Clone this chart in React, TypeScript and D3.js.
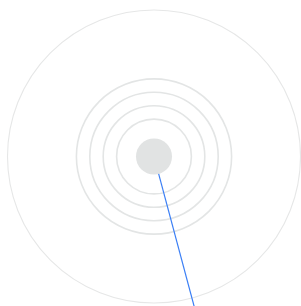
import React, { useEffect, useRef } from "react";
import * as d3 from "d3";

// ring levels drawn as concentric circles
const ringLevels = [1, 2, 3, 4];
// outer boundary level
const outerLevel = [10];
// needle heading in degrees (clockwise from north)
const needleHeading = [165];

const App: React.FC = () => {
  const ref = useRef<SVGSVGElement>(null);

  useEffect(() => {
    const width = 301,
      height = 306;
    const cx = 154,
      cy = 156.5;

    const svg = d3.select(ref.current);
    svg.selectAll("*").remove();

    const g = svg.append("g").attr("transform", `translate(${cx},${cy})`);

    // radius scale: level -> px
    const r = d3.scaleLinear().domain([0, 1]).range([24, 37.4]);
    const outerR = d3.scaleLinear().domain([0, 10]).range([0, 146.5]);
    const angle = d3.scaleLinear().domain([0, 360]).range([0, 2 * Math.PI]);

    g.selectAll("circle.outer")
      .data(outerLevel)
      .enter()
      .append("circle")
      .attr("class", "outer")
      .attr("r", (d) => outerR(d))
      .attr("fill", "none")
      .attr("stroke", "#e6e7e7")
      .attr("stroke-width", 1.1);

    g.selectAll("circle.ring")
      .data(ringLevels)
      .enter()
      .append("circle")
      .attr("class", "ring")
      .attr("r", (d) => r(d))
      .attr("fill", "none")
      .attr("stroke", "#e3e5e5")
      .attr("stroke-width", 1.6);

    const hubR = 18;
    g.append("circle").attr("r", hubR).attr("fill", "#e1e3e3");

    g.selectAll("line.needle")
      .data(needleHeading)
      .enter()
      .append("line")
      .attr("class", "needle")
      .attr("x1", (d) => hubR * Math.sin(angle(d)))
      .attr("y1", (d) => -hubR * Math.cos(angle(d)))
      .attr("x2", (d) => 170 * Math.sin(angle(d)))
      .attr("y2", (d) => -170 * Math.cos(angle(d)))
      .attr("stroke", "#3b7ff5")
      .attr("stroke-width", 1.2);

    svg.attr("width", width).attr("height", height);
  }, []);

  return (
    <svg
      ref={ref}
      width={301}
      height={306}
      style={{ position: "absolute", left: 0, top: 0, background: "#fff" }}
    />
  );
};

export default App;
